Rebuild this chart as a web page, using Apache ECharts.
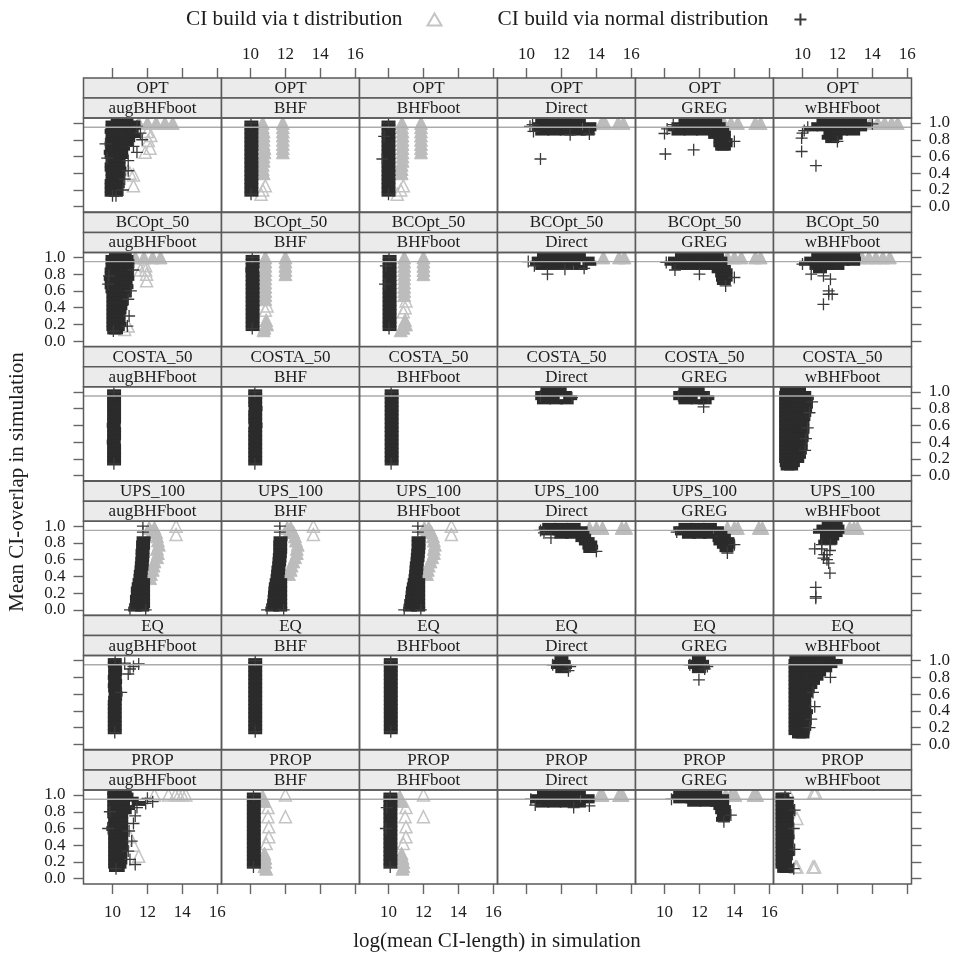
<!DOCTYPE html>
<html><head><meta charset="utf-8"><style>html,body{margin:0;background:#fff}#c{width:953px;height:956px}</style>
<script src="https://cdn.jsdelivr.net/npm/echarts@6/dist/echarts.min.js"></script></head><body><div id="c"></div>
<script>
const designs=['OPT','BCOpt_50','COSTA_50','UPS_100','EQ','PROP'];
const estimators=['augBHFboot','BHF','BHFboot','Direct','GREG','wBHFboot'];
const xTicks=[10,12,14,16], yTicks=[0,0.2,0.4,0.6,0.8,1];
const xRange=[8.34,16.24], yRange=[-0.063,1.06], refLevel=0.95;
const tName='CI build via t distribution', nName='CI build via normal distribution';
const xTitle='log(mean CI-length) in simulation', yTitle='Mean CI-overlap in simulation';
// rows are [y, x, x, ...]; nc/tc = densely overplotted cores, no/to = individually visible points
const nc_OPT_aug=[[1.04,10.3,10.8],[1,10,10.6,11.2],[.95,10,10.6,11.2],[.9,9.95,10.6,11.1],[.85,10,10.6,11.25],[.8,10,10.6,10.9],[.75,9.95,10.5,10.8],[.7,10,10.6],[.65,9.9,10.5],[.6,9.95,10.5],[.55,10,10.35],[.5,9.95,10.35],[.45,9.95,10.4],[.4,10,10.35],[.35,10,10.3],[.3,9.95,10.25],[.25,9.95,10.3],[.2,9.95,10.2],[.15,9.95,10.2]];
const no_OPT_aug=[[.88,11.6],[.65,11.4],[.43,10.9],[.2,10.6],[.13,10,10.2],[.75,9.6],[.58,9.7],[.8,11.7],[.96,11.4],[.72,11.2],[.55,10.9],[.33,10.7]];
const tc_OPT_aug=[[1,11.5,12,12.5,13,13.45]];
const to_OPT_aug=[[.9,12],[.85,12.2],[.79,12.05],[.7,12.15],[.65,11.87],[.4,11],[.38,11.2],[.25,11.2]];
const nc_OPT_BHF=[[1,10.05],[.95,10.05],[.9,10.05],[.85,10.05],[.8,10.05],[.75,10.05],[.7,10.05],[.65,10.05],[.6,10.05],[.55,10.05],[.5,10.05],[.45,10.05],[.4,10.05],[.35,10.05],[.3,10.05],[.25,10.05],[.2,10.05],[.15,10.05]];
const no_OPT_BHF=[[1,10.03],[.15,10.03]];
const tc_OPT_BHF=[[1,10.7,11.85],[.95,10.7,11.85],[.9,10.75,11.85],[.85,10.75,11.85],[.8,10.75,11.85],[.75,10.75,11.85],[.7,10.8,11.85],[.65,10.8,11.85],[.6,10.75],[.55,10.75],[.5,10.7],[.45,10.7],[.4,10.75]];
const to_OPT_BHF=[[.25,10.85],[.2,10.7],[.15,10.6]];
const nc_OPT_Boot=[[1,10],[.95,10],[.9,10],[.85,10],[.8,10],[.75,10],[.7,10],[.65,10],[.6,10],[.55,10],[.5,10],[.45,10],[.4,10],[.35,10],[.3,10],[.25,10],[.2,10],[.15,10]];
const no_OPT_Boot=[[1,10],[.15,10],[.84,9.75],[.57,9.65]];
const tc_OPT_Boot=[[1,10.77,11.86],[.95,10.77,11.86],[.9,10.8,11.86],[.85,10.8,11.86],[.8,10.8,11.86],[.75,10.8,11.86],[.7,10.8,11.86],[.65,10.8,11.86],[.6,10.8],[.55,10.8],[.5,10.75],[.45,10.75],[.4,10.75]];
const to_OPT_Boot=[[.25,10.85],[.2,10.7],[.15,10.5]];
const nc_OPT_Direct=[[1.03,10.9,11.6,12.3,13],[.98,10.7,11.4,12.1,12.8,13.6],[.93,10.7,11.4,12.1,12.8,13.6],[.88,10.9,11.6,12.3,13,13.5]];
const no_OPT_Direct=[[.57,10.8],[.96,10.2],[.9,10.4],[.86,12.5],[.98,10.35],[.87,13.6]];
const tc_OPT_Direct=[[1,14.3,14.5,15.25,15.55]];
const nc_OPT_GREG=[[1.03,11.2,11.9,12.6,12.9],[.98,10.8,11.5,12.2,12.9,13.1],[.93,10.6,11.3,12,12.7,13.3],[.88,10.8,11.5,12.2,12.9,13.4],[.84,12.9,13.4],[.79,13.2,13.5],[.74,13.2,13.5],[.7,13.3,13.4]];
const no_OPT_GREG=[[.875,10],[.63,10.05],[.68,11.67],[.78,14],[.93,10.15],[.98,10.5]];
const tc_OPT_GREG=[[1,13.4,13.8,14.2,15.2,15.5]];
const nc_OPT_wBHF=[[1.03,11.2,11.9,12.6,13.3],[.98,10.9,11.6,12.3,13,13.55],[.93,10.5,11.2,11.9,12.6,13.3],[.88,11.6,12.2,12.9],[.83,11.5,11.9],[.79,11.7]];
const no_OPT_wBHF=[[.82,9.95],[.66,9.95],[.49,10.77],[.78,12],[.88,10],[.91,10.1],[.99,14],[.95,10.3]];
const tc_OPT_wBHF=[[1,13.9,14.3,14.7,15.1,15.45]];
const nc_BC_aug=[[1.03,10.2,10.7],[1,10,10.6,10.8],[.95,10,10.6,10.85],[.9,10,10.6,10.85],[.85,9.95,10.5,10.8],[.8,9.95,10.5,10.8],[.75,9.9,10.5,10.85],[.7,9.95,10.5,10.75],[.65,9.95,10.5,10.8],[.6,10,10.5,10.7],[.55,10.05,10.5,10.7],[.5,10.05,10.5],[.45,10.05,10.5],[.4,10.05,10.45],[.35,10.05,10.4],[.3,10.05,10.35],[.25,10.05,10.35],[.2,10.05,10.4],[.15,10.05,10.3],[.11,10.1,10.2]];
const no_BC_aug=[[.68,9.75],[.12,10.05],[.85,11.2],[.6,11.05],[.3,10.95],[.78,9.8],[.5,10.9],[.18,10.85]];
const tc_BC_aug=[[1,11.3,11.8,12.3,12.75]];
const to_BC_aug=[[.9,11.9],[.85,11.9,11.6],[.8,11.95],[.72,11.95],[.18,10.9],[.14,10.7]];
const nc_BC_BHF=[[1,10.12],[.95,10.12],[.9,10.12],[.85,10.1],[.8,10.12],[.75,10.12],[.7,10.12],[.65,10.12],[.6,10.12],[.55,10.12],[.5,10.12],[.45,10.12],[.4,10.12],[.35,10.12],[.3,10.12],[.25,10.12],[.2,10.12],[.15,10.12]];
const no_BC_BHF=[[1,10.1],[.15,10.1]];
const tc_BC_BHF=[[1,10.85,12],[.95,10.85,12],[.9,10.85,12],[.85,10.85,12],[.8,10.85,12],[.75,10.85],[.7,10.85],[.65,10.85],[.6,10.85],[.55,10.85],[.5,10.85],[.25,10.9],[.2,10.95],[.16,10.8],[.13,10.75]];
const to_BC_BHF=[[.42,10.95],[.37,10.85]];
const nc_BC_Boot=[[1,10.06],[.95,10.06],[.9,10.06],[.85,10.06],[.8,10.06],[.75,10.06],[.7,10.06],[.65,10.06],[.6,10.06],[.55,10.06],[.5,10.06],[.45,10.06],[.4,10.06],[.35,10.06],[.3,10.06],[.25,10.06],[.2,10.06],[.15,10.06]];
const no_BC_Boot=[[1,10.03],[.15,10.03],[.68,9.8],[.9,9.85]];
const tc_BC_Boot=[[1,10.9,12],[.95,10.9,12],[.9,10.9,12],[.85,10.9,12],[.8,10.9,12],[.75,10.9],[.7,10.9],[.65,10.9],[.6,10.9],[.55,10.9],[.25,10.95],[.2,11],[.16,10.85],[.13,10.7]];
const to_BC_Boot=[[.48,11],[.4,10.95],[.35,10.85]];
const nc_BC_Direct=[[1.03,11,11.7,12.4,13],[.98,10.7,11.4,12.1,12.8,13.5],[.93,10.6,11.3,12,12.7,13.6],[.88,10.9,11.6,12.3,13.1]];
const no_BC_Direct=[[.8,11.2],[.95,10.1],[.87,13.3],[.86,12.2],[.9,10.45]];
const tc_BC_Direct=[[1,14.4,15.3,15.6]];
const nc_BC_GREG=[[1.03,11,11.7,12.4,13],[.98,10.6,11.3,12,12.7,13.2],[.93,10.4,11.1,11.8,12.5,13.2],[.88,10.8,11.5,12.2,12.9,13.4],[.84,13.1,13.5],[.79,13.3,13.5],[.74,13.35,13.5],[.7,13.4]];
const no_BC_GREG=[[.85,10.6],[.8,12],[.76,14],[.66,13.5],[.94,10.1]];
const tc_BC_GREG=[[1,13.6,14,14.4,15.2,15.5]];
const nc_BC_wBHF=[[1.03,10.9,11.6,12.3,12.9],[.98,10.5,11.2,11.9,12.6,12.95],[.93,10.2,10.9,11.6,12.3,12.9],[.88,10.8,11.4,12],[.84,11]];
const no_BC_wBHF=[[.74,11.6],[.6,11.5],[.56,11.5,11.7],[.44,11.2],[.8,10.5],[.78,11.2],[.92,10]];
const tc_BC_wBHF=[[1,13,13.4,13.8,14.2,14.6,15]];
const nc_CO_aug=[[1,10.09],[.95,10.09],[.9,10.09],[.85,10.09],[.8,10.09],[.75,10.09],[.7,10.09],[.65,10.09],[.6,10.07],[.55,10.09],[.5,10.09],[.45,10.09],[.4,10.07],[.35,10.09],[.3,10.09],[.25,10.09],[.2,10.09],[.15,10.09]];
const no_CO_aug=[[1,10.08],[.14,10.08]];
const nc_CO_BHF=[[1,10.27],[.95,10.27],[.9,10.27],[.85,10.27],[.8,10.29],[.75,10.27],[.7,10.27],[.65,10.27],[.6,10.29],[.55,10.27],[.5,10.27],[.45,10.27],[.4,10.27],[.35,10.27],[.3,10.27],[.25,10.27],[.2,10.27],[.15,10.27]];
const no_CO_BHF=[[1,10.25],[.14,10.25]];
const nc_CO_Boot=[[1,10.18],[.95,10.18],[.9,10.18],[.85,10.18],[.8,10.18],[.75,10.18],[.7,10.18],[.65,10.18],[.6,10.18],[.55,10.18],[.5,10.18],[.45,10.18],[.4,10.18],[.35,10.18],[.3,10.18],[.25,10.18],[.2,10.18],[.15,10.18]];
const no_CO_Boot=[[1,10.15],[.14,10.15]];
const nc_CO_Direct=[[1.03,11.2,11.9],[.98,10.9,11.5,12.2],[.93,10.9,11.5,12.5],[.88,11,11.7,12.3]];
const no_CO_Direct=[[.95,10.8],[.93,12.6]];
const nc_CO_GREG=[[1.03,11.2,11.9],[.98,10.9,11.5,12.2],[.93,10.9,11.5,12.45],[.88,11.2,11.9,12.3]];
const no_CO_GREG=[[.82,12.24],[.95,10.8],[.93,12.5]];
const nc_CO_wBHF=[[1.03,9.1,9.8],[.98,9.06,9.8,10.1],[.93,9.06,9.7,10.25],[.88,9.06,9.7,10.2],[.83,9.06,9.7,10.2],[.78,9.06,9.7,10.15],[.73,9.06,9.7,10.1],[.68,9.06,9.7,10.05],[.63,9.06,9.7,10],[.58,9.06,9.7,10],[.53,9.06,9.7,10],[.48,9.06,9.7,9.95],[.43,9.06,9.7,9.95],[.38,9.06,9.6,9.9],[.33,9.06,9.6,9.9],[.28,9.06,9.6,9.85],[.23,9.06,9.5,9.8],[.18,9.06,9.45,9.7],[.13,9.1,9.45],[.09,9.15,9.35]];
const no_CO_wBHF=[[.57,10.3],[.75,10.4],[.88,10.55],[.44,10.2],[.3,10.15]];
const nc_UP_aug=[[.85,11.78],[.8,11.75],[.75,11.75],[.7,11.72],[.65,11.72],[.6,11.7],[.55,11.68],[.5,11.66],[.45,11.62],[.4,11.6],[.35,11.55,11.75],[.3,11.5,11.75],[.25,11.45,11.75],[.2,11.45,11.75],[.15,11.4,11.75],[.1,11.4,11.75],[.05,11.35,11.75],[.01,11.3,11.7]];
const no_UP_aug=[[1,11.74],[.93,11.74],[0,11,11.9]];
const tc_UP_aug=[[.98,12.1,12.4],[.93,12.25,12.5],[.88,12.55],[.83,12.6],[.78,12.65],[.73,12.55],[.68,12.6],[.63,12.55],[.58,12.4],[.53,12.35],[.48,12.3],[.43,12.2],[.38,12.15]];
const to_UP_aug=[[1,13.64],[.9,13.64]];
const nc_UP_BHF=[[.85,11.72],[.8,11.7],[.75,11.7],[.7,11.7],[.65,11.68],[.6,11.66],[.55,11.64],[.5,11.6],[.45,11.58],[.4,11.55],[.35,11.5,11.7],[.3,11.45,11.7],[.25,11.42,11.7],[.2,11.4,11.7],[.15,11.38,11.7],[.1,11.35,11.7],[.05,11.3,11.7],[.01,11.25,11.7]];
const no_UP_BHF=[[1,11.68],[.93,11.68],[0,10.95,11.9]];
const tc_UP_BHF=[[.98,12.1,12.3],[.93,12.2,12.45],[.88,12.55],[.83,12.6],[.78,12.7],[.73,12.65],[.68,12.65],[.63,12.55],[.58,12.45],[.53,12.35],[.48,12.3],[.43,12.2]];
const to_UP_BHF=[[1,13.6],[.9,13.6]];
const nc_UP_Boot=[[.85,11.72],[.8,11.72],[.75,11.72],[.7,11.7],[.65,11.68],[.6,11.66],[.55,11.62],[.5,11.6],[.45,11.58],[.4,11.55],[.35,11.5,11.7],[.3,11.45,11.7],[.25,11.4,11.7],[.2,11.38,11.7],[.15,11.35,11.7],[.1,11.3,11.7],[.05,11.28,11.7],[.01,11.24,11.7]];
const no_UP_Boot=[[1,11.68],[.93,11.68],[0,10.9,11.85]];
const tc_UP_Boot=[[.98,12.05,12.3],[.93,12.15,12.45],[.88,12.55],[.83,12.6],[.78,12.65],[.73,12.6],[.68,12.6],[.63,12.5],[.58,12.4],[.53,12.3],[.48,12.25],[.43,12.2]];
const to_UP_Boot=[[1,13.6],[.9,13.6]];
const nc_UP_Direct=[[1.01,11.3,12,12.7],[.97,11.1,11.8,12.5,13.1],[.92,11.2,11.9,12.6,13.2],[.88,12,12.6,13.3],[.84,13.2,13.5],[.8,13.4,13.65],[.75,13.6,13.7],[.71,13.65]];
const no_UP_Direct=[[.95,10.8],[.92,11],[.7,14],[.86,11.4]];
const tc_UP_Direct=[[.98,13.6,14,14.35,15.45,15.7]];
const nc_UP_GREG=[[1.01,11.2,11.9,12.6],[.97,10.9,11.6,12.3,13],[.92,11,11.7,12.4,13.2],[.88,11.4,12,12.6,13.4],[.84,13.15,13.6],[.8,13.2,13.65],[.76,13.4,13.65],[.72,13.55]];
const no_UP_GREG=[[.93,10.7],[.68,13.6],[.78,14]];
const tc_UP_GREG=[[.98,13.6,14,14.2,15.4,15.6]];
const nc_UP_wBHF=[[1.03,11.5,11.9],[.99,11.2,11.6,12],[.94,11,11.6,12],[.9,11.4,11.9],[.86,11.4,11.7],[.81,11.3,11.6]];
const no_UP_wBHF=[[.78,11.1,11.6],[.73,10.7,11.1],[.71,11.57],[.66,11.25,11.4],[.62,11.2],[.6,11.4],[.56,11.5],[.44,11.57],[.27,10.76],[.16,10.76],[.14,10.76]];
const tc_UP_wBHF=[[.98,12.7,12.95,13.15]];
const nc_EQ_aug=[[1,10.13],[.95,10.13],[.9,10.15],[.85,10.15],[.8,10.13],[.75,10.15],[.7,10.13],[.65,10.15],[.6,10.18],[.55,10.15],[.5,10.13],[.45,10.13],[.4,10.13],[.35,10.13],[.3,10.13],[.25,10.13],[.2,10.13],[.15,10.13]];
const no_EQ_aug=[[1.02,10.15],[.14,10.13],[.96,11.5],[.93,11.2],[.9,11],[.84,10.9],[.97,10.7],[.62,10.5]];
const nc_EQ_BHF=[[1,10.27],[.95,10.27],[.9,10.27],[.85,10.27],[.8,10.27],[.75,10.27],[.7,10.27],[.65,10.27],[.6,10.27],[.55,10.27],[.5,10.27],[.45,10.27],[.4,10.27],[.35,10.27],[.3,10.27],[.25,10.27],[.2,10.27],[.15,10.27]];
const no_EQ_BHF=[[1,10.27],[.15,10.27]];
const nc_EQ_Boot=[[1,10.13],[.95,10.13],[.9,10.13],[.85,10.13],[.8,10.13],[.75,10.13],[.7,10.13],[.65,10.13],[.6,10.13],[.55,10.13],[.5,10.13],[.45,10.13],[.4,10.13],[.35,10.13],[.3,10.13],[.25,10.13],[.2,10.13],[.15,10.13]];
const no_EQ_Boot=[[1,10.13],[.15,10.13]];
const nc_EQ_Direct=[[1.03,12],[.98,11.85,12.1],[.93,11.8,12.2],[.88,12.05]];
const no_EQ_Direct=[[.95,11.5],[.93,12.5],[.88,12.4]];
const nc_EQ_GREG=[[1.03,11.97],[.98,11.75,12.15],[.93,11.75,12.2],[.88,11.97]];
const no_EQ_GREG=[[.95,11.45],[.93,12.45],[.77,11.97],[.9,12.3]];
const nc_EQ_wBHF=[[1.03,9.65,10.3,11,11.5],[.99,9.6,10.3,11,11.7,11.9],[.94,9.6,10.3,11,11.6],[.89,9.6,10.3,10.95,11.3],[.84,9.6,10.3,10.95],[.79,9.6,10.3,10.8],[.74,9.6,10.2,10.6],[.69,9.6,10.1,10.45],[.64,9.6,10.1,10.3],[.59,9.6,10.1,10.2],[.54,9.6,10,10.1],[.49,9.6,10.1],[.44,9.6,10.1],[.39,9.6,10.2],[.34,9.6,10.1],[.29,9.6,10.1],[.24,9.6,10.1],[.19,9.6,10.1],[.14,9.6,10],[.1,9.8,10]];
const no_EQ_wBHF=[[.45,10.7],[.3,10.5],[.8,11.6],[.62,10.6],[.2,10.4]];
const nc_PR_aug=[[1.03,10.1,10.7],[1,10.1,10.5,10.8],[.95,10.1,10.6,11.1],[.9,10.1,10.6,11.5],[.85,10.1,10.5,10.9],[.8,10.1,10.5,10.7],[.75,10.1,10.5],[.7,10.15,10.5],[.65,10.1,10.5],[.6,10.05,10.5],[.55,10.15,10.5],[.5,10.15,10.5],[.45,10.15,10.5],[.4,10.15,10.5],[.35,10.15,10.5],[.3,10.15,10.45],[.25,10.15,10.45],[.2,10.15,10.45],[.15,10.15,10.4],[.11,10.2,10.3]];
const no_PR_aug=[[.92,12.3],[.9,11.9],[.96,12],[.85,11.4],[.75,11.3],[.66,11.2],[.57,10.95],[.45,11.1],[.33,10.9],[.17,11.3],[.23,11],[.6,9.75],[.8,9.85],[.12,10.2]];
const to_PR_aug=[[1,12.4,13.2,13.6,13.8,14,14.2],[.4,11.2],[.27,11.5],[.5,11]];
const nc_PR_BHF=[[1,10.19],[.95,10.19],[.9,10.19],[.85,10.19],[.8,10.19],[.75,10.19],[.7,10.19],[.65,10.19],[.6,10.19],[.55,10.19],[.5,10.19],[.45,10.19],[.4,10.19],[.35,10.19],[.3,10.19],[.25,10.19],[.2,10.19],[.15,10.19]];
const no_PR_BHF=[[1,10.17],[.14,10.17]];
const tc_PR_BHF=[[.98,10.7],[.93,10.8],[.3,10.8],[.25,10.85],[.2,10.85],[.15,10.8],[.12,10.9]];
const to_PR_BHF=[[1,12],[.74,12],[.85,11],[.74,11],[.62,11.05],[.5,11.05],[.42,10.9]];
const nc_PR_Boot=[[1,10.11],[.95,10.11],[.9,10.11],[.85,10.11],[.8,10.11],[.75,10.11],[.7,10.11],[.65,10.11],[.6,10.11],[.55,10.11],[.5,10.11],[.45,10.11],[.4,10.11],[.35,10.11],[.3,10.11],[.25,10.11],[.2,10.11],[.15,10.11]];
const no_PR_Boot=[[1,10.1],[.14,10.1],[.6,9.85],[.85,9.9]];
const tc_PR_Boot=[[.98,10.65],[.93,10.75],[.3,10.75],[.25,10.8],[.2,10.85],[.15,10.85],[.12,10.8]];
const to_PR_Boot=[[1,12],[.74,12],[.85,11],[.74,10.95],[.62,11],[.5,11],[.42,10.85]];
const nc_PR_Direct=[[1.03,11,11.7,12.4,13],[.98,10.6,11.3,12,12.7,13.5],[.93,10.6,11.3,12,12.7,13.5],[.88,10.9,11.6,12.3,13]];
const no_PR_Direct=[[.95,10.25],[.87,13.6],[.85,12.7],[.88,10.5]];
const tc_PR_Direct=[[1,14.2,14.35,15.3,15.5]];
const nc_PR_GREG=[[1.02,10.9,11.6,12.3,12.9],[.98,10.8,11.5,12.2,12.9,13.3],[.93,10.9,11.6,12.3,13,13.3],[.89,11.7,12.4,13,13.3],[.85,13.2,13.4],[.8,13.3,13.4],[.75,13.4],[.71,13.35]];
const no_PR_GREG=[[.95,10.4],[.76,13.8],[.68,13.4]];
const tc_PR_GREG=[[1,13.5,13.8,14.05,15.1,15.3]];
const nc_PR_wBHF=[[1,8.85],[.95,8.85,9.1],[.9,8.85,9.1],[.85,8.85,9.15],[.8,8.85,9.2],[.75,8.85,9.1],[.7,8.85,9.1],[.65,8.85,9.1],[.6,8.85,9.05],[.55,8.85,9.1],[.5,8.85,9.15],[.45,8.85,9.1],[.4,8.85,9.1],[.35,8.85,9.1],[.3,8.85,9.15],[.25,8.85,9.05],[.2,8.85,9],[.15,8.85,9.1],[.1,8.95,9.1]];
const no_PR_wBHF=[[1.02,9],[.82,9.55],[.6,9.5],[.35,9.55],[.12,9.5]];
const to_PR_wBHF=[[1.03,9.17,10.65,10.75],[.72,9.68],[.14,9.68,9.6,10.6,10.7]];

const L0=83.5,W=138,T0=78,RP=134.4,SH=20,PH=94;
const rowKey=['OPT','BC','CO','UP','EQ','PR'], colKey=['aug','BHF','Boot','Direct','GREG','wBHF'];
const table={nc_OPT_aug,no_OPT_aug,tc_OPT_aug,to_OPT_aug,nc_OPT_BHF,no_OPT_BHF,tc_OPT_BHF,to_OPT_BHF,nc_OPT_Boot,no_OPT_Boot,tc_OPT_Boot,to_OPT_Boot,nc_OPT_Direct,no_OPT_Direct,tc_OPT_Direct,nc_OPT_GREG,no_OPT_GREG,tc_OPT_GREG,nc_OPT_wBHF,no_OPT_wBHF,tc_OPT_wBHF,
nc_BC_aug,no_BC_aug,tc_BC_aug,to_BC_aug,nc_BC_BHF,no_BC_BHF,tc_BC_BHF,to_BC_BHF,nc_BC_Boot,no_BC_Boot,tc_BC_Boot,to_BC_Boot,nc_BC_Direct,no_BC_Direct,tc_BC_Direct,nc_BC_GREG,no_BC_GREG,tc_BC_GREG,nc_BC_wBHF,no_BC_wBHF,tc_BC_wBHF,
nc_CO_aug,no_CO_aug,nc_CO_BHF,no_CO_BHF,nc_CO_Boot,no_CO_Boot,nc_CO_Direct,no_CO_Direct,nc_CO_GREG,no_CO_GREG,nc_CO_wBHF,no_CO_wBHF,
nc_UP_aug,no_UP_aug,tc_UP_aug,to_UP_aug,nc_UP_BHF,no_UP_BHF,tc_UP_BHF,to_UP_BHF,nc_UP_Boot,no_UP_Boot,tc_UP_Boot,to_UP_Boot,nc_UP_Direct,no_UP_Direct,tc_UP_Direct,nc_UP_GREG,no_UP_GREG,tc_UP_GREG,nc_UP_wBHF,no_UP_wBHF,tc_UP_wBHF,
nc_EQ_aug,no_EQ_aug,nc_EQ_BHF,no_EQ_BHF,nc_EQ_Boot,no_EQ_Boot,nc_EQ_Direct,no_EQ_Direct,nc_EQ_GREG,no_EQ_GREG,nc_EQ_wBHF,no_EQ_wBHF,
nc_PR_aug,no_PR_aug,to_PR_aug,nc_PR_BHF,no_PR_BHF,tc_PR_BHF,to_PR_BHF,nc_PR_Boot,no_PR_Boot,tc_PR_Boot,to_PR_Boot,nc_PR_Direct,no_PR_Direct,tc_PR_Direct,nc_PR_GREG,no_PR_GREG,tc_PR_GREG,nc_PR_wBHF,no_PR_wBHF,to_PR_wBHF};
const pts=rows=>(rows||[]).flatMap(r=>r.slice(1).map(x=>[x,r[0]]));
const serif='"Liberation Serif"';
const ink='#2b2b2b', tGrey='#bcbcbc', edge='#5a5a5a';
const plus='path://M0,-1L0,1M-1,0L1,0';
const grid=[],xAxis=[],yAxis=[],series=[],g=[];
const hiddenX=i=>({gridIndex:i,type:'value',min:xRange[0],max:xRange[1],show:false});
const hiddenY=i=>({gridIndex:i,type:'value',min:yRange[0],max:yRange[1],show:false});
designs.forEach((d,r)=>estimators.forEach((e,c)=>{
  const i=grid.length, left=L0+c*W, top=T0+r*RP;
  grid.push({left,top:top+2*SH,width:W,height:PH});
  xAxis.push(hiddenX(i)); yAxis.push(hiddenY(i));
  const k=rowKey[r]+'_'+colKey[c], base={type:'scatter',xAxisIndex:i,yAxisIndex:i,animation:false,silent:true,clip:false};
  series.push({...base,name:tName,z:2,data:pts(table['to_'+k]),symbol:'triangle',symbolSize:12,itemStyle:{opacity:1,color:'rgba(255,255,255,0)',borderColor:'#c4c4c4',borderWidth:1.5}});
  series.push({...base,name:tName,z:2,data:pts(table['tc_'+k]),symbol:'triangle',symbolSize:13,itemStyle:{opacity:1,color:tGrey,borderColor:tGrey,borderWidth:1}});
  series.push({...base,name:nName,z:4,data:pts(table['no_'+k]),symbol:plus,symbolSize:12,itemStyle:{opacity:1,color:'rgba(0,0,0,0)',borderColor:'#3a3a3a',borderWidth:1.3}});
  series.push({...base,name:nName,z:3,data:pts(table['nc_'+k]),symbol:'rect',symbolSize:[14,5],itemStyle:{opacity:1,color:ink,borderWidth:0}});
  series.push({type:'line',name:'ref',xAxisIndex:i,yAxisIndex:i,z:6,animation:false,silent:true,symbol:'none',data:[[xRange[0],refLevel],[xRange[1],refLevel]],lineStyle:{color:'#ababab',width:1.4}});
  [[top,d],[top+SH,e]].forEach(([y,txt])=>{
    g.push({type:'rect',z:100,shape:{x:left,y,width:W,height:SH},style:{fill:'#ebebeb',stroke:edge,lineWidth:1.5}});
    g.push({type:'text',z:101,style:{text:txt,x:left+W/2,y:y+SH/2+0.5,align:'center',verticalAlign:'middle',font:'17px '+serif,fill:'#1c1c1c'}});
  });
  g.push({type:'rect',z:100,shape:{x:left,y:top+2*SH,width:W,height:PH},style:{fill:'none',stroke:edge,lineWidth:1.5}});
}));
const tickStyle={show:true,length:10,lineStyle:{color:'#666',width:1.4}};
estimators.forEach((_,c)=>{
  const i=grid.length, odd=c%2===1, yi=yAxis.length;
  grid.push({left:L0+c*W,top:T0,width:W,height:5*RP+2*SH+PH});
  yAxis.push(hiddenY(i));
  const ax=(pos,labelled)=>({gridIndex:i,type:'value',position:pos,min:xRange[0],max:xRange[1],splitLine:{show:false},axisLine:{show:false,onZero:false},
    axisTick:{...tickStyle,customValues:xTicks},
    axisLabel:{show:labelled,customValues:xTicks,margin:pos==='top'?15:20,showMinLabel:true,showMaxLabel:true,fontFamily:serif,fontSize:17,color:'#1c1c1c',formatter:v=>String(v)}});
  const xi=xAxis.length;
  xAxis.push(ax('top',odd)); xAxis.push(ax('bottom',!odd));
  series.push({type:'line',name:'ref',xAxisIndex:xi,yAxisIndex:yi,data:[],silent:true});
  series.push({type:'line',name:'ref',xAxisIndex:xi+1,yAxisIndex:yi,data:[],silent:true});
});
designs.forEach((_,r)=>{
  const i=grid.length, odd=r%2===1, xi=xAxis.length;
  grid.push({left:L0,top:T0+r*RP+2*SH,width:6*W,height:PH});
  xAxis.push(hiddenX(i));
  // labels sit closer than ECharts' min/max overlap test allows, so alternate ticks are labelled by two coincident axes
  const ax=(pos,ticks,labels)=>({gridIndex:i,type:'value',position:pos,min:yRange[0],max:yRange[1],splitLine:{show:false},axisLine:{show:false,onZero:false},
    axisTick:ticks?{...tickStyle,customValues:yTicks}:{show:false},
    axisLabel:{show:!!labels,customValues:labels||yTicks,margin:18,showMinLabel:true,showMaxLabel:true,hideOverlap:false,fontFamily:serif,fontSize:17,color:'#1c1c1c',formatter:v=>v.toFixed(1)}});
  const even=yTicks.filter((_,k)=>k%2===0), oddT=yTicks.filter((_,k)=>k%2===1);
  const labelPos=odd?'left':'right', plainPos=odd?'right':'left';
  const yi=yAxis.length;
  yAxis.push(ax(labelPos,true,even)); yAxis.push(ax(labelPos,false,oddT)); yAxis.push(ax(plainPos,true,null));
  [0,1,2].forEach(k=>series.push({type:'line',name:'ref',xAxisIndex:xi,yAxisIndex:yi+k,data:[],silent:true}));
});
g.push({type:'text',style:{text:xTitle,x:497,y:941,align:'center',verticalAlign:'middle',font:'21px '+serif,fill:'#1c1c1c'}});
g.push({type:'text',rotation:Math.PI/2,x:17,y:482,style:{text:yTitle,x:0,y:0,align:'center',verticalAlign:'middle',font:'21px '+serif,fill:'#1c1c1c'}});
const chart=echarts.init(document.getElementById('c'),null,{renderer:'canvas'});
chart.setOption({animation:false,backgroundColor:'#fff',
  legend:{left:181,top:4,align:'right',itemGap:55,itemWidth:14,itemHeight:12,selectedMode:false,data:[tName,nName],
    textStyle:{fontFamily:serif,fontSize:21.3,color:'#1c1c1c',padding:[0,20,0,0]}},
  grid,xAxis,yAxis,series,graphic:{elements:g}});
</script></body></html>
